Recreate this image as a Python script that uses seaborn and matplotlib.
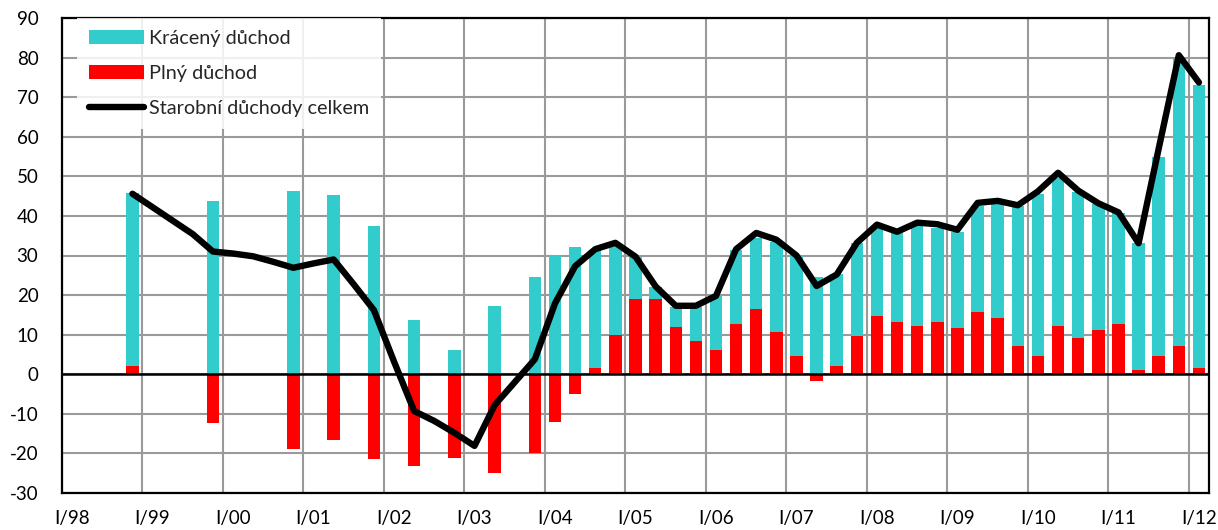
import numpy as np
import pandas as pd
import matplotlib
matplotlib.use("Agg")
import matplotlib.pyplot as plt
from matplotlib.patches import Patch
from matplotlib.lines import Line2D
import seaborn as sns

# ---- data ----
years = ["98", "99", "00", "01", "02", "03", "04", "05", "06", "07", "08", "09", "10", "11", "12"]
quarter_names = ["I", "II", "III", "IV"]
# all categories I/98 .. I/12
periods = [f"{q}/{y}" for y in years for q in quarter_names][:57]
year_labels = [f"I/{y}" for y in years]

# values from IV/98 to I/12 (None = no bar)
first_period = "IV/98"
plny = [2.1, None, None, None, -12.4, None, None, None, -19.0, None, -16.5, None,
        -21.5, None, -23.1, None, -21.1, None, -25.0, None, -20.0, -12.0, -4.9, 1.7,
        9.8, 18.9, 18.9, 11.9, 8.3, 6.2, 12.8, 16.4, 10.7, 4.7, -1.7, 2.1,
        9.7, 14.8, 13.2, 12.3, 13.2, 11.8, 15.7, 14.2, 7.2, 4.7, 12.3, 9.1,
        11.3, 12.7, 1.1, 4.6, 7.2, 1.5]
kraceny = [43.6, None, None, None, 43.7, None, None, None, 46.2, None, 45.2, None,
           37.5, None, 13.7, None, 6.1, None, 17.3, None, 24.6, 30.1, 32.1, 29.6,
           23.0, 10.8, 3.1, 5.0, 8.7, 13.5, 18.7, 18.1, 22.8, 25.3, 24.6, 23.3,
           23.4, 22.6, 22.6, 25.1, 23.8, 24.2, 26.8, 29.3, 35.3, 40.8, 37.2, 37.0,
           31.8, 28.1, 32.0, 50.3, 72.4, 71.6]
celkem = [45.6, 42.2, 38.8, 35.4, 31.0, 30.5, 29.8, 28.4, 26.9, 28.0, 29.0, 22.7,
          16.2, 3.2, -9.3, -11.8, -14.8, -18.1, -7.8, -2.0, 3.8, 17.9, 27.3, 31.6,
          33.2, 29.7, 22.2, 17.3, 17.3, 19.8, 31.6, 35.7, 34.0, 30.0, 22.3, 25.2,
          33.2, 37.8, 36.0, 38.3, 37.9, 36.5, 43.3, 43.8, 42.7, 46.2, 50.9, 46.4,
          43.2, 40.9, 33.1, 57.0, 80.6, 73.7]

series_names = ["Krácený důchod", "Plný důchod", "Starobní důchody celkem"]
y_ticks = list(range(-30, 91, 10))

# ---- build table ----
start = periods.index(first_period)
df = pd.DataFrame({
    "period": periods[start:start + len(celkem)],
    "kraceny": pd.to_numeric(pd.Series(kraceny), errors="coerce"),
    "plny": pd.to_numeric(pd.Series(plny), errors="coerce"),
    "celkem": celkem,
})
df["pos"] = [periods.index(p) + 0.5 for p in df["period"]]
df["cyan_top"] = df["kraceny"] + df["plny"].clip(lower=0)
bars = df.dropna(subset=["kraceny"])

# ---- style ----
sns.set_style("white")
plt.rcParams["font.family"] = ["Lato", "DejaVu Sans"]

CYAN = "#33CCCC"
RED = "#FF0000"
GRID = "#9A9A9A"

fig = plt.figure(figsize=(12.18, 5.30), dpi=100)
ax = fig.add_axes([62 / 1218, 1 - 493 / 530, (1209 - 62) / 1218, (493 - 18) / 530])

sns.barplot(data=bars, x="pos", y="cyan_top", native_scale=True, color=CYAN,
            saturation=1, width=0.62, linewidth=0, ax=ax, zorder=2)
sns.barplot(data=bars, x="pos", y="plny", native_scale=True, color=RED,
            saturation=1, width=0.62, linewidth=0, ax=ax, zorder=3)
sns.lineplot(data=df, x="pos", y="celkem", color="black", linewidth=4.6, sort=False,
             ax=ax, zorder=5, solid_capstyle="round", solid_joinstyle="round")

ax.axhline(0, color="black", linewidth=1.8, zorder=4)

ax.set_xlim(0, len(periods))
ax.set_ylim(-30, 90)
ax.set_xlabel("")
ax.set_ylabel("")

ax.set_xticks(np.arange(0, len(periods), 4))
ax.set_xticklabels([])
ax.set_xticks(np.arange(0, len(periods), 4) + 0.5, minor=True)
ax.set_xticklabels(year_labels, minor=True)
ax.set_yticks(y_ticks)
ax.set_yticklabels([str(v) for v in y_ticks])

ax.tick_params(axis="x", which="both", length=0, labelsize=13.5, pad=12, colors="black")
ax.tick_params(axis="y", length=0, labelsize=13.5, pad=17, colors="black")

ax.grid(True, which="major", axis="both", color=GRID, linewidth=1.5)
ax.set_axisbelow(True)
for s in ax.spines.values():
    s.set_visible(True)
    s.set_color("black")
    s.set_linewidth(1.6)

handles = [
    Patch(facecolor=CYAN, edgecolor="none", label=series_names[0]),
    Patch(facecolor=RED, edgecolor="none", label=series_names[1]),
    Line2D([0], [0], color="black", linewidth=4.6, solid_capstyle="round", label=series_names[2]),
]
leg = ax.legend(handles=handles, loc="upper left", bbox_to_anchor=(0.0133, 1.0),
                borderaxespad=0, borderpad=0.6, handlelength=2.75, handletextpad=0.26,
                labelspacing=0.9, fontsize=14.3, frameon=True, fancybox=False,
                framealpha=0.85, edgecolor="none", facecolor="white")
leg.set_zorder(6)

fig.savefig("out.png", dpi=100)
